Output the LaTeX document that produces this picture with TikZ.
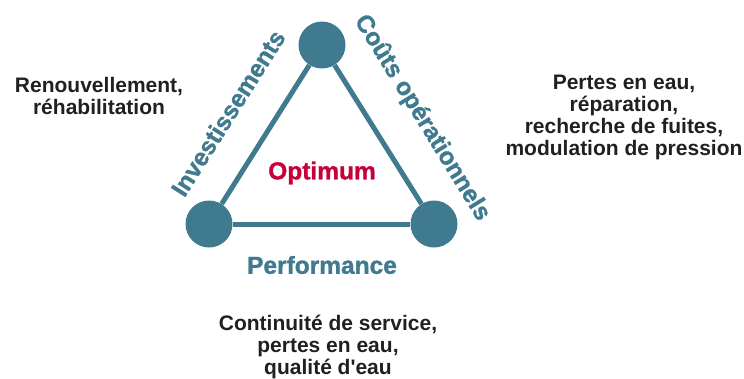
\documentclass[tikz,border=0pt]{standalone}
\usepackage{fontspec}
\setmainfont{Liberation Sans}
\newfontfamily\heavyfont[FakeBold=1.2]{Liberation Sans Bold}
\definecolor{teal1}{RGB}{64,122,143}
\definecolor{redopt}{RGB}{200,0,58}
\definecolor{txt}{RGB}{35,31,32}
\begin{document}
\begin{tikzpicture}[x=1pt,y=-1pt,
  vertex/.style={circle,fill=teal1,minimum size=47pt,inner sep=0pt},
  edge/.style={draw=teal1,line width=5pt},
  axislabel/.style={font=\fontsize{24.5}{26}\heavyfont,text=teal1,inner sep=0pt},
  note/.style={font=\fontsize{21}{22}\selectfont\bfseries,text=txt,align=center,inner sep=0pt}]
\useasboundingbox (0,0) rectangle (744,378);
\node[vertex] (t) at (322,45) {};
\node[vertex] (l) at (209,224) {};
\node[vertex] (r) at (434,224) {};
\draw[edge] (t) -- (l);
\draw[edge] (l) -- (r);
\draw[edge] (r) -- (t);
\node[axislabel,rotate=57.7] (inv) at (228,113) {Investissements};
\node[axislabel,rotate=-58.3] (cout) at (422,118) {Coûts opérationnels};
\node[axislabel] (perf) at (322,265) {Performance};
\node[axislabel,text=redopt] (opt) at (322,173) {Optimum};
\node[note] (n1) at (99,96) {Renouvellement,\\réhabilitation};
\node[note] (n2) at (624,117) {Pertes en eau,\\réparation,\\recherche de fuites,\\modulation de pression};
\node[note] (n3) at (328,347) {Continuité de service,\\pertes en eau,\\qualité d\textquotesingle eau};
\end{tikzpicture}
\end{document}
